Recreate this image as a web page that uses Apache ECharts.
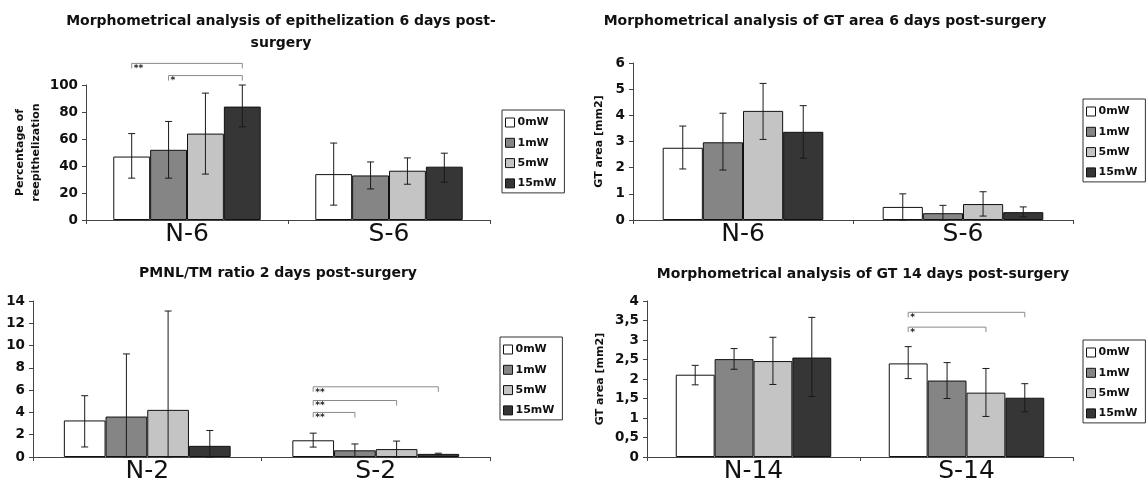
<!DOCTYPE html>
<html>
<head>
<meta charset="utf-8">
<script src="https://cdn.jsdelivr.net/npm/echarts@6/dist/echarts.min.js"></script>
<style>
  html, body { margin: 0; background: #fff; }
  #chart { width: 1148px; height: 486px; }
</style>
</head>
<body>
<div id="chart"></div>
<script>
// groups (legend) and shades
const seriesNames = ['0mW', '1mW', '5mW', '15mW'];
const barColors = ['#ffffff', '#858585', '#c4c4c4', '#363636'];

// epithelization, 6 days  (rows = series, cols = categories)
const epiCategories = ['N-6', 'S-6'];
const epiMean = [[47, 34], [52, 33], [64, 36.5], [84, 39.5]];
const epiLow = [[31, 11], [31, 23], [34, 26.5], [69, 28]];
const epiHigh = [[64, 57], [73, 43], [94, 46], [100, 49.5]];
const epiSig = [[0, 0, 3, 116, '**'], [0, 1, 3, 107, '*']];

// GT area, 6 days
const gt6Categories = ['N-6', 'S-6'];
const gt6Mean = [[2.76, 0.5], [2.97, 0.26], [4.17, 0.61], [3.37, 0.3]];
const gt6Low = [[1.95, 0], [1.91, 0], [3.08, 0.15], [2.36, 0.12]];
const gt6High = [[3.59, 1.0], [4.08, 0.56], [5.22, 1.08], [4.37, 0.5]];
const gt6Sig = [];

// PMNL/TM ratio, 2 days
const pmnlCategories = ['N-2', 'S-2'];
const pmnlMean = [[3.28, 1.5], [3.63, 0.6], [4.23, 0.71], [1.0, 0.28]];
const pmnlLow = [[0.9, 0.89], [0, 0.05], [0, 0], [0, 0.22]];
const pmnlHigh = [[5.5, 2.14], [9.25, 1.17], [13.1, 1.43], [2.38, 0.34]];
const pmnlSig = [[1, 0, 3, 6.3, '**'], [1, 0, 2, 5.07, '**'], [1, 0, 1, 4.0, '**']];

// GT area, 14 days
const gt14Categories = ['N-14', 'S-14'];
const gt14Mean = [[2.11, 2.4], [2.51, 1.96], [2.46, 1.65], [2.55, 1.52]];
const gt14Low = [[1.85, 2.01], [2.25, 1.5], [1.86, 1.04], [1.55, 1.16]];
const gt14High = [[2.35, 2.83], [2.78, 2.42], [3.07, 2.27], [3.58, 1.88]];
const gt14Sig = [[1, 0, 3, 3.71, '*'], [1, 0, 2, 3.33, '*']];

const GAP = 0.27;
const FONT = 'DejaVu Sans';

const panels = [
  { title: 'Morphometrical analysis of epithelization 6 days post-\nsurgery', titleX: 281, titleY: 10,
    grid: { left: 86, right: 658, top: 85, bottom: 266 },
    legend: { left: 502, top: 110 },
    yName: 'Percentage of\nreepithelization', nameGap: 42, axis: [0, 100, 20],
    cats: epiCategories, mean: epiMean, low: epiLow, high: epiHigh, sig: epiSig },
  { title: 'Morphometrical analysis of GT area 6 days post-surgery', titleX: 825, titleY: 10,
    grid: { left: 633, right: 75, top: 63, bottom: 266 },
    legend: { left: 1083, top: 99 },
    yName: 'GT area [mm2]', nameGap: 26, axis: [0, 6, 1],
    cats: gt6Categories, mean: gt6Mean, low: gt6Low, high: gt6High, sig: gt6Sig },
  { title: 'PMNL/TM ratio 2 days post-surgery', titleX: 278, titleY: 262,
    grid: { left: 33, right: 658, top: 301, bottom: 29 },
    legend: { left: 500, top: 337 },
    yName: '', nameGap: 0, axis: [0, 14, 2],
    cats: pmnlCategories, mean: pmnlMean, low: pmnlLow, high: pmnlHigh, sig: pmnlSig },
  { title: 'Morphometrical analysis of GT 14 days post-surgery', titleX: 863, titleY: 263,
    grid: { left: 647, right: 75, top: 301, bottom: 29 },
    legend: { left: 1083, top: 340 },
    yName: 'GT area [mm2]', nameGap: 39, axis: [0, 4, 0.5], comma: true,
    cats: gt14Categories, mean: gt14Mean, low: gt14Low, high: gt14High, sig: gt14Sig }
];

// x centre of bar k inside category cat
function barX(api, cat, k) {
  const band = api.size([1, 0])[0];
  const bw = band * (1 - GAP) / seriesNames.length;
  return api.coord([cat, 0])[0] + (k - (seriesNames.length - 1) / 2) * bw;
}

function errorBar(params, api) {
  const x = barX(api, api.value(0), api.value(1));
  const lo = api.coord([api.value(0), api.value(2)])[1];
  const hi = api.coord([api.value(0), api.value(3)])[1];
  const c = 3.5;
  const st = { stroke: '#1a1a1a', lineWidth: 1 };
  return {
    type: 'group',
    children: [
      { type: 'line', shape: { x1: x, y1: lo, x2: x, y2: hi }, style: st },
      { type: 'line', shape: { x1: x - c, y1: hi, x2: x + c, y2: hi }, style: st },
      { type: 'line', shape: { x1: x - c, y1: lo, x2: x + c, y2: lo }, style: st }
    ]
  };
}

function makeBracket(sig) {
  return function (params, api) {
    const cat = api.value(0);
    const x1 = barX(api, cat, api.value(1));
    const x2 = barX(api, cat, api.value(2));
    const y = api.coord([cat, api.value(3)])[1];
    return {
      type: 'group',
      children: [
        { type: 'polyline', shape: { points: [[x1, y + 5], [x1, y], [x2, y], [x2, y + 5]] },
          style: { stroke: '#8a8a8a', lineWidth: 1, fill: null } },
        { type: 'text', x: x1 + 2, y: y + 1,
          style: { text: sig[params.dataIndex][4], fill: '#222', font: 'bold 9px ' + FONT } }
      ]
    };
  };
}

const option = {
  backgroundColor: '#fff',
  animation: false,
  title: [], grid: [], xAxis: [], yAxis: [], legend: [], series: []
};

panels.forEach((p, gi) => {
  option.title.push({
    text: p.title, left: p.titleX, top: p.titleY, textAlign: 'center', padding: 0,
    textStyle: { fontFamily: FONT, fontWeight: 'bold', fontSize: 14, lineHeight: 22, color: '#111' }
  });
  option.grid.push(p.grid);
  option.xAxis.push({
    type: 'category', gridIndex: gi, data: p.cats,
    axisLine: { lineStyle: { color: '#444', width: 1 } },
    axisTick: { show: true, length: 4, interval: 0, lineStyle: { color: '#444' } },
    axisLabel: { fontFamily: FONT, fontSize: 25, color: '#111', margin: 2 }
  });
  option.yAxis.push({
    type: 'value', gridIndex: gi, min: p.axis[0], max: p.axis[1], interval: p.axis[2],
    name: p.yName, nameLocation: 'middle', nameRotate: 90, nameGap: p.nameGap,
    nameTextStyle: { fontFamily: FONT, fontWeight: 'bold', fontSize: 11, lineHeight: 16, color: '#111' },
    splitLine: { show: false },
    axisLine: { show: true, lineStyle: { color: '#444', width: 1 } },
    axisTick: { show: true, length: 4, lineStyle: { color: '#444' } },
    axisLabel: {
      fontFamily: FONT, fontWeight: 'bold', fontSize: 13.5, color: '#111', margin: 8,
      formatter: v => p.comma ? String(v).replace('.', ',') : String(v)
    }
  });
  option.legend.push({
    data: seriesNames, orient: 'vertical', left: p.legend.left, top: p.legend.top,
    icon: 'rect', itemWidth: 9, itemHeight: 9, itemGap: 9.3,
    padding: [7, 8, 4, 3], borderColor: '#333', borderWidth: 1,
    itemStyle: { borderColor: '#111', borderWidth: 1 },
    textStyle: { fontFamily: FONT, fontWeight: 'bold', fontSize: 11, color: '#111', padding: [0, 0, 0, -2] }
  });
  seriesNames.forEach((name, k) => {
    option.series.push({
      type: 'bar', name, xAxisIndex: gi, yAxisIndex: gi, data: p.mean[k],
      barGap: 0, barCategoryGap: (GAP * 100) + '%',
      itemStyle: { color: barColors[k], borderColor: '#111', borderWidth: 1 }
    });
  });
  const errData = [];
  p.cats.forEach((c, ci) => {
    seriesNames.forEach((n, k) => errData.push([ci, k, p.low[k][ci], p.high[k][ci]]));
  });
  option.series.push({
    type: 'custom', xAxisIndex: gi, yAxisIndex: gi, renderItem: errorBar, z: 5,
    encode: { x: 0, y: 3 }, data: errData, silent: true
  });
  if (p.sig.length) {
    option.series.push({
      type: 'custom', xAxisIndex: gi, yAxisIndex: gi, renderItem: makeBracket(p.sig), z: 5, clip: false,
      encode: { x: 0, y: 3 }, data: p.sig.map(s => s.slice(0, 4)), silent: true
    });
  }
});

const chart = echarts.init(document.getElementById('chart'));
chart.setOption(option);
window.addEventListener('resize', () => chart.resize());
</script>
</body>
</html>
